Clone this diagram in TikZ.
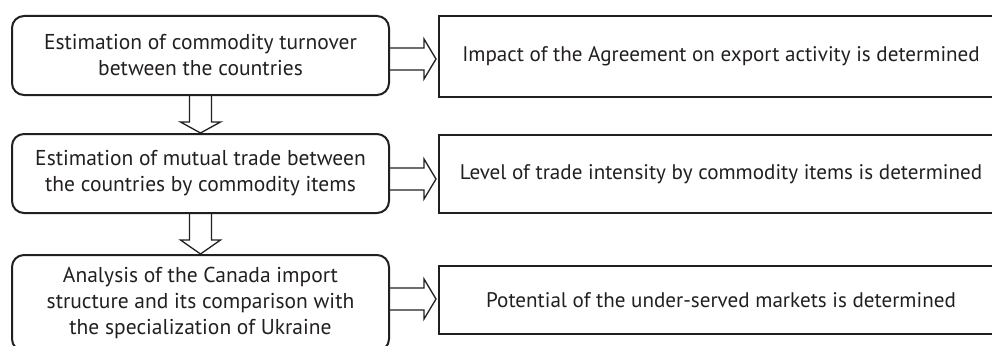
\documentclass[tikz,border=0pt]{standalone}
\usepackage{fontspec}
\setmainfont{PT Sans}
\usetikzlibrary{calc}
\definecolor{ink}{HTML}{231F20}
\begin{document}
\begin{tikzpicture}[x=1pt,y=1pt,
  leftbox/.style={draw=ink,line width=2pt,rounded corners=12pt,inner sep=0pt,
    align=center,font=\fontsize{21.5}{26}\selectfont,text=ink},
  rightbox/.style={draw=ink,line width=2pt,inner sep=0pt,
    align=center,font=\fontsize{21.1}{26}\selectfont,text=ink},
  blk/.style={draw=ink,line width=1.3pt,line join=miter}]
\useasboundingbox (0,0) rectangle (992,-345);
% left boxes
\node[leftbox,minimum width=377pt,minimum height=79pt,anchor=north west] (L1) at (11,-15)
  {Estimation of commodity turnover\\between the countries};
\node[leftbox,minimum width=377pt,minimum height=79pt,anchor=north west] (L2) at (11,-133)
  {Estimation of mutual trade between\\the countries by commodity items};
\node[leftbox,minimum width=377pt,minimum height=96pt,anchor=north west] (L3) at (11,-254)
  {Analysis of the Canada import\\structure and its comparison with\\the specialization of Ukraine};
% right boxes (they run past the right edge)
\node[rightbox,minimum width=564pt,minimum height=81pt,anchor=north west] (R1) at (438,-15)
  {Impact of the Agreement on export activity is determined};
\node[rightbox,minimum width=564pt,minimum height=78pt,anchor=north west] (R2) at (438,-134)
  {Level of trade intensity by commodity items is determined};
\node[rightbox,minimum width=564pt,minimum height=68pt,anchor=north west] (R3) at (438,-265)
  {Potential of the under-served markets is determined};
% right block arrows
\path (L1.east |- 0,-59) coordinate (a1);
\path (L2.east |- 0,-179) coordinate (a2);
\path (L3.east |- 0,-299) coordinate (a3);
\foreach \a in {a1,a2,a3}{
  \draw[blk] ($(\a)+(0,11)$) -- ($(\a)+(34,11)$) -- ($(\a)+(34,20)$) -- ($(\a)+(46,0)$)
    -- ($(\a)+(34,-20)$) -- ($(\a)+(34,-11)$) -- ($(\a)+(0,-11)$);
}
% down block arrows
\foreach \s/\t in {L1/L2,L2/L3}{
  \draw[blk] ($(\s.south)+(-11,0)$) -- ($(\s.south)+(-11,-26)$) -- ($(\s.south)+(-20,-26)$)
    -- (\t.north) -- ($(\s.south)+(20,-26)$) -- ($(\s.south)+(11,-26)$) -- ($(\s.south)+(11,0)$);
}
\end{tikzpicture}
\end{document}
